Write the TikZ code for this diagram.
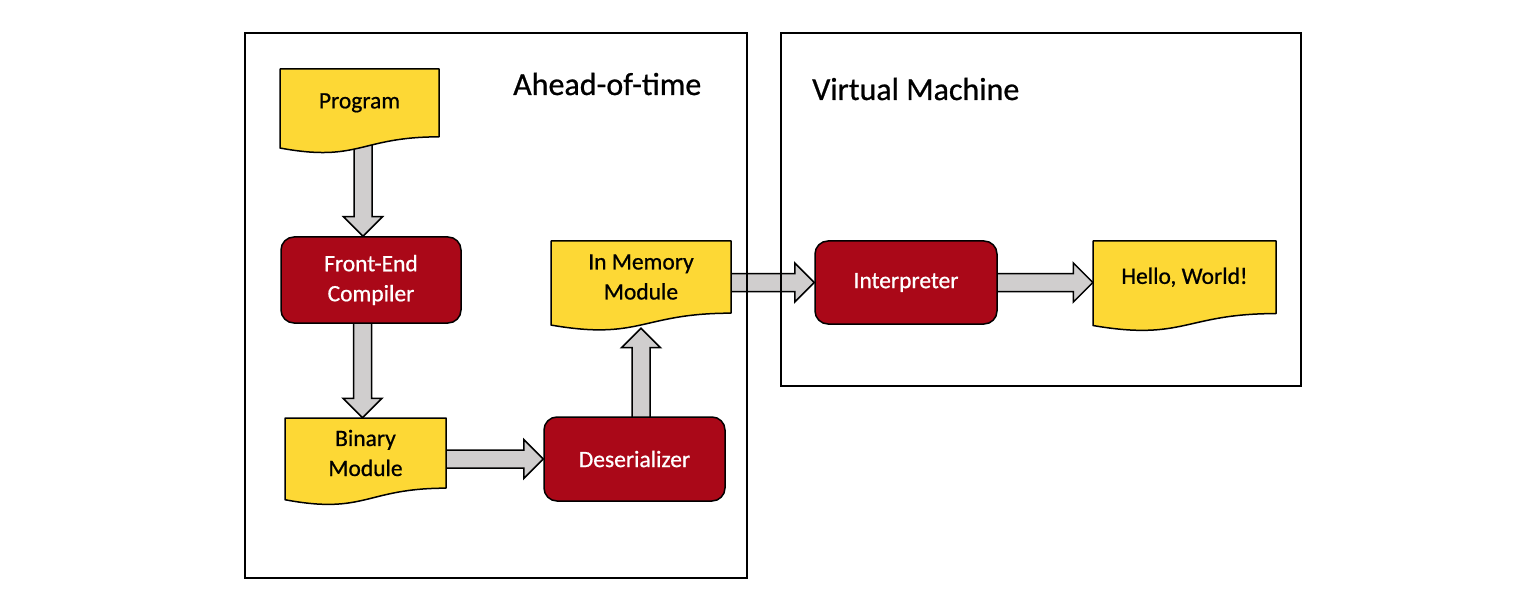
\documentclass[tikz,border=0pt]{standalone}
\usepackage{fontspec}
\setmainfont{Carlito}[UprightFeatures={FakeBold=0.7}]
\usetikzlibrary{calc,backgrounds}
\definecolor{docyellow}{RGB}{253,216,53}
\definecolor{procred}{RGB}{170,8,24}
\definecolor{arrowgray}{RGB}{208,206,206}
\tikzset{
  frame/.style={draw=black,line width=1.6pt},
  docfill/.style={fill=docyellow,draw=black,line width=1.5pt,line join=round},
  doctext/.style={inner sep=0pt,align=center,font=\fontsize{23.5}{30}\selectfont,text=black},
  procbox/.style={draw=black,line width=1.5pt,fill=procred,rounded corners=13pt,
    inner sep=0pt,align=center,text=white,font=\fontsize{23.5}{30}\selectfont},
  fatarrowstyle/.style={fill=arrowgray,draw=black,line width=1.5pt,line join=miter},
  titletext/.style={inner sep=0pt,anchor=base west,font=\fontsize{32}{38}\selectfont}
}
% name, x, y, w, h, text
\newcommand\docnode[6]{%
  \node[inner sep=0pt,minimum width=#4pt,minimum height=#5pt] (#1) at (#2+0.5*#4,#3+0.5*#5) {};
  \draw[docfill] (#2,#3) -- (#2+#4,#3) -- (#2+#4,#3+0.802*#5)
     .. controls +(-0.5*#4,0) and +(0.5*#4,0.1735*#5) .. (#2,#3+0.934*#5) -- cycle;
  \node[doctext] (#1-t) at (#2+0.5*#4,#3+0.4*#5) {#6};
}
\newcommand\fatarrow[2]{%
  \coordinate (fa-h) at ($(#2)!19.5pt!(#1)$);
  \draw[fatarrowstyle] ($(#1)!9pt!90:(#2)$) -- ($(fa-h)!9pt!90:(#2)$) -- ($(fa-h)!19.5pt!90:(#2)$)
     -- (#2) -- ($(fa-h)!19.5pt!-90:(#2)$) -- ($(fa-h)!9pt!-90:(#2)$) -- ($(#1)!9pt!-90:(#2)$) -- cycle;
}
\begin{document}
\begin{tikzpicture}[x=1pt,y=-1pt]
\useasboundingbox (0,0) rectangle (1534,604);
% documents
\docnode{prog}{280}{69}{159}{84.6}{Program}
\docnode{binary}{285}{418}{161}{87.5}{Binary\\Module}
\docnode{inmem}{551}{241}{180}{90}{In Memory\\Module}
\docnode{hello}{1093}{241}{183}{90.5}{Hello, World!}
% processes
\node[procbox,minimum width=180pt,minimum height=86pt] (fec) at (371,280) {Front-End\\Compiler};
\node[procbox,minimum width=181pt,minimum height=84pt] (deser) at (634.5,459) {Deserializer};
\node[procbox,minimum width=182pt,minimum height=83pt] (interp) at (906,282.5) {Interpreter};
% titles
\node[titletext] (aot) at (513,95) {Ahead-of-time};
\node[titletext] (vm) at (812,100) {Virtual Machine};
% connector end points
\coordinate (a1s) at ([xshift=3.5pt]prog.center);
\coordinate (a1e) at ([xshift=-8pt]fec.north);
\coordinate (a2s) at ([xshift=-8.5pt]fec.center);
\coordinate (a2e) at ([xshift=-3pt]binary.north);
\coordinate (a3s) at (binary.center |- deser.west);
\coordinate (a3e) at (deser.west);
\coordinate (a4s) at (inmem.center |- deser.center);
\coordinate (a4e) at ([yshift=3pt]inmem.south);
\coordinate (a5s) at (inmem.center |- interp.west);
\coordinate (a5e) at (interp.west);
\coordinate (a6s) at (interp.center);
\coordinate (a6e) at (hello.west |- interp.east);
\begin{scope}[on background layer]
\fill[white] (0,0) rectangle (1534,604);
\fatarrow{a1s}{a1e}
\fatarrow{a2s}{a2e}
\fatarrow{a3s}{a3e}
\fatarrow{a4s}{a4e}
\fatarrow{a5s}{a5e}
\fatarrow{a6s}{a6e}
\end{scope}
% frames
\draw[frame] (245,33) rectangle (747,578);
\draw[frame] (781,33) rectangle (1301,386);
\end{tikzpicture}
\end{document}
